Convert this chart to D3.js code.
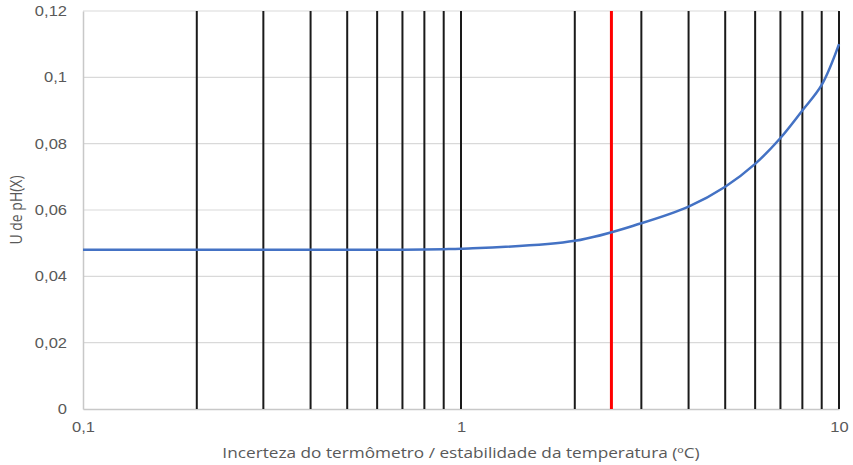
<!DOCTYPE html>
<html>
<head>
<meta charset="utf-8">
<script src="https://cdn.jsdelivr.net/npm/d3@7"></script>
<style>
  html, body { margin: 0; padding: 0; background: #fff; }
  svg { display: block; font-family: "Open Sans", "Noto Sans", sans-serif; }
</style>
</head>
<body>
<svg id="chart" width="853" height="465"></svg>
<script>
// Uncertainty of the thermometer / temperature stability (ºC)
const xValues = [0.1, 0.2, 0.3, 0.4, 0.5, 0.6, 0.7, 0.8, 0.9, 1, 2, 3, 4, 5, 6, 7, 8, 9, 10];
// Expanded uncertainty U of pH(X)
const uValues = [0.048, 0.048, 0.048, 0.048, 0.048, 0.048, 0.048, 0.0481, 0.0482, 0.0483, 0.0507, 0.056, 0.061, 0.067, 0.0739, 0.0817, 0.090, 0.0977, 0.110];
// Vertical reference lines
const refLines = [0.2, 0.3, 0.4, 0.5, 0.6, 0.7, 0.8, 0.9, 1, 2, 3, 4, 5, 6, 7, 8, 9, 10];
const highlightValue = 2.5;
const yTicks = [0, 0.02, 0.04, 0.06, 0.08, 0.1, 0.12];
const xTicks = [0.1, 1, 10];
const xTitle = "Incerteza do termômetro / estabilidade da temperatura (ºC)";
const yTitle = "U de pH(X)";

const svg = d3.select("#chart");
const margin = { left: 83, right: 14, top: 11, bottom: 56 };
const W = 853, H = 465;
const stretch = 1.18; // labels are drawn slightly wide

const x = d3.scaleLog().domain([0.1, 10]).range([margin.left, W - margin.right]);
const y = d3.scaleLinear().domain([0, 0.12]).range([H - margin.bottom, margin.top]);

const fmt = d => String(d).replace(".", ",");

// horizontal gridlines
svg.append("g")
  .selectAll("line")
  .data(yTicks.filter(d => d > 0))
  .join("line")
  .attr("x1", x(0.1)).attr("x2", x(10))
  .attr("y1", d => y(d)).attr("y2", d => y(d))
  .attr("stroke", "#d9d9d9").attr("stroke-width", 1.2);

// y axis
const yAxis = d3.axisLeft(y).tickValues(yTicks).tickFormat(fmt).tickSize(0).tickPadding(16);
const gy = svg.append("g").attr("transform", `translate(${x(0.1)},0)`).call(yAxis);
gy.select(".domain").attr("stroke", "#c8c8c8").attr("stroke-width", 1.5);
gy.selectAll("text")
  .attr("fill", "#595959").style("font-size", "14px")
  .attr("x", 0)
  .attr("transform", `translate(-16,0) scale(${stretch},1)`);

// x axis
const xAxis = d3.axisBottom(x).tickValues(xTicks).tickFormat(fmt).tickSize(0).tickPadding(13);
const gx = svg.append("g").attr("transform", `translate(0,${y(0)})`).call(xAxis);
gx.select(".domain").attr("stroke", "#c8c8c8").attr("stroke-width", 1.5);
gx.selectAll("text")
  .attr("fill", "#595959").style("font-size", "14px")
  .attr("transform", `scale(${stretch},1)`);

// vertical reference lines
svg.append("g")
  .selectAll("line")
  .data(refLines)
  .join("line")
  .attr("x1", d => x(d)).attr("x2", d => x(d))
  .attr("y1", y(0.12)).attr("y2", y(0))
  .attr("stroke", "#1a1a1a").attr("stroke-width", 2);

svg.append("line")
  .attr("x1", x(highlightValue)).attr("x2", x(highlightValue))
  .attr("y1", y(0.12)).attr("y2", y(0))
  .attr("stroke", "#ff0000").attr("stroke-width", 3);

// uncertainty curve
const data = xValues.map((v, i) => [v, uValues[i]]);
svg.append("path")
  .datum(data)
  .attr("fill", "none")
  .attr("stroke", "#4472c4")
  .attr("stroke-width", 2.5)
  .attr("d", d3.line().x(d => x(d[0])).y(d => y(d[1])).curve(d3.curveCatmullRom.alpha(0.5)));

// axis titles
svg.append("text")
  .attr("transform", `translate(${(x(0.1) + x(10)) / 2},458) scale(1.23,1)`)
  .attr("text-anchor", "middle")
  .attr("fill", "#595959").style("font-size", "14px")
  .text(xTitle);

svg.append("text")
  .attr("transform", `translate(22,${(y(0) + y(0.12)) / 2}) rotate(-90) scale(1,${stretch})`)
  .attr("text-anchor", "middle")
  .attr("fill", "#595959").style("font-size", "14px")
  .text(yTitle);
</script>
</body>
</html>
